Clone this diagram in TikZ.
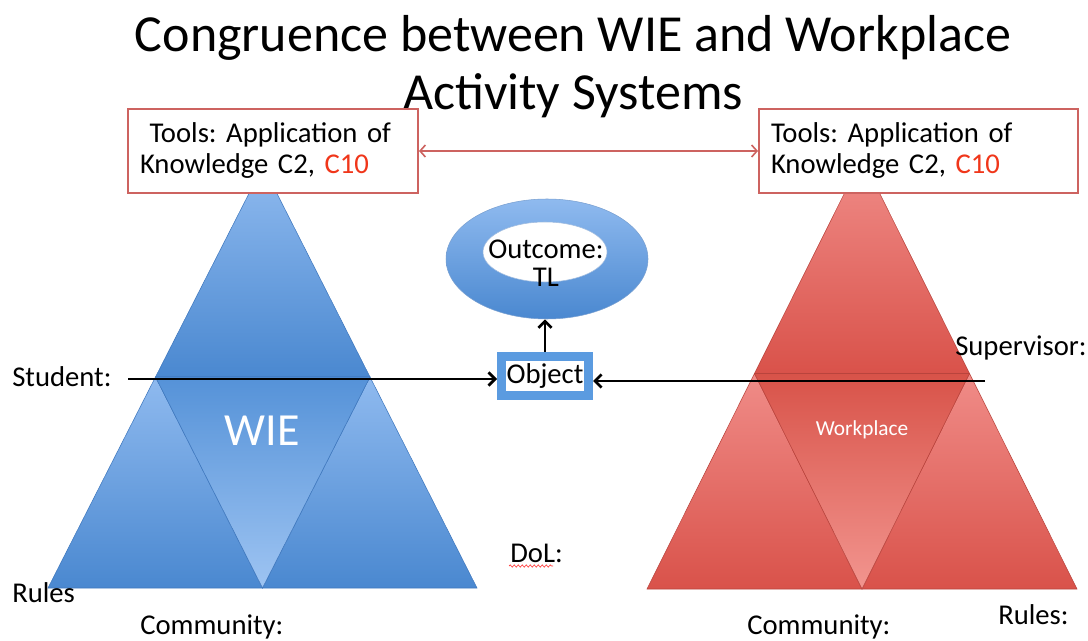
\documentclass[tikz,border=0pt]{standalone}
\usepackage{fontspec}
\setmainfont{Carlito}
\usetikzlibrary{arrows.meta,shapes.geometric,decorations.pathmorphing}
\frenchspacing

\definecolor{bluetop}{HTML}{8FBAEF}
\definecolor{bluebot}{HTML}{4A88D0}
\definecolor{bluemidtop}{HTML}{5592D8}
\definecolor{bluemidbot}{HTML}{9EC4F2}
\definecolor{blueedge}{HTML}{3F78BE}
\definecolor{redtop}{HTML}{F08C88}
\definecolor{redbot}{HTML}{D9524A}
\definecolor{redmidtop}{HTML}{D85349}
\definecolor{redmidbot}{HTML}{F2958F}
\definecolor{rededge}{HTML}{B9443D}
\definecolor{boxred}{HTML}{CD6360}
\definecolor{codered}{HTML}{F0361A}
\definecolor{objblue}{HTML}{5B9BE0}

\tikzset{
  toolbox/.style={draw=boxred, line width=1.5pt, fill=white, align=left, inner xsep=9pt,
    minimum height=63pt, anchor=north west, font=\fontsize{21.5}{23.25}\selectfont},
  txt/.style={inner sep=0pt, anchor=base west, font=\fontsize{21.5}{24}\selectfont},
  arr/.style={line width=2pt, -{Straight Barb[length=5pt,width=10pt]}},
  redarr/.style={draw=boxred, line width=1.2pt, {Straight Barb[length=4pt,width=9pt]}-{Straight Barb[length=4pt,width=9pt]}},
  bluetri/.style={top color=bluetop, bottom color=bluebot, draw=blueedge, line width=0.4pt},
  bluemid/.style={top color=bluemidtop, bottom color=bluemidbot, draw=blueedge, line width=0.4pt},
  redtri/.style={top color=redtop, bottom color=redbot, draw=rededge, line width=0.4pt},
  redmid/.style={top color=redmidtop, bottom color=redmidbot, draw=rededge, line width=0.4pt},
}

\begin{document}
\begin{tikzpicture}[x=0.75pt,y=-0.75pt]
        \useasboundingbox (0,0) rectangle (1088,641);
        \fill[white] (0,0) rectangle (1088,641);

        % triangles WIE
        \shade[bluetri] (263,166) -- (370,377) -- (155.5,377) -- cycle;
        \shade[bluetri] (155.5,377) -- (262.5,588) -- (48,588) -- cycle;
        \shade[bluetri] (370,377) -- (477,588) -- (262.5,588) -- cycle;
        \shade[bluemid] (155.5,377) -- (370,377) -- (262.5,588) -- cycle;
        \node[text=white, font=\fontsize{34.5}{40}\selectfont, anchor=base, inner sep=0pt] (wie) at (262,445) {WIE};

        % triangles Workplace
        \shade[redtri] (862,158) -- (969.5,373.5) -- (754.5,373.5) -- cycle;
        \shade[redtri] (754.5,373.5) -- (862,589) -- (647,589) -- cycle;
        \shade[redtri] (969.5,373.5) -- (1077,589) -- (862,589) -- cycle;
        \shade[redmid] (754.5,373.5) -- (969.5,373.5) -- (862,589) -- cycle;
        \node[text=white, font=\fontsize{16}{18}\selectfont, anchor=base, inner sep=0pt] (work) at (862,435) {Workplace};

        % title
        \node[font=\fontsize{39}{43.5}\selectfont, align=center, inner sep=0pt] (title) at (573,67)
            {Congruence between WIE and Workplace\\Activity Systems};

        % tools
        \node[toolbox, text width=199.5pt] (lbox) at (127,108)
            {\ Tools: Application of\\Knowledge C2, \textcolor{codered}{C10}};
        \node[toolbox, text width=221.25pt] (rbox) at (758,108)
            {Tools: Application of\\Knowledge C2, \textcolor{codered}{C10}};
        \draw[redarr] (lbox.east) -- (rbox.west);

        % outcome
        \node[ellipse, minimum width=151.5pt, minimum height=90pt, top color=bluetop, bottom color=bluebot,
            draw=blueedge!70, line width=0.4pt] (outcome) at (547,259) {};
        \node[ellipse, minimum width=93pt, minimum height=45pt, fill=white, draw=blueedge!50,
            line width=0.4pt] (outin) at (545,252) {};
        \node[align=center, inner sep=0pt, font=\fontsize{21.5}{21}\selectfont] (outtxt) at (546,263) {Outcome:\\TL};

        % object
        \node[draw=objblue, line width=7pt, fill=white, minimum width=65pt, minimum height=29pt, inner sep=1pt,
            font=\fontsize{21.5}{23}\selectfont] (object) at (545,376) {Object};
        \draw[arr] (object.north) -- (object.north |- outcome.south);

        % subjects
        \coordinate (stu) at (128,379);
        \coordinate (sup) at (985,381);
        \draw[arr] (stu) -- (stu -| object.west);
        \draw[arr] (sup) -- (sup -| object.east);

        % labels
        \node[txt] (student) at (12,387) {Student:};
        \node[txt] (supervisor) at (955,355) {Supervisor:};
        \node[txt] (lrules) at (12,602) {Rules};
        \node[txt] (lcomm) at (140,634) {Community:};
        \node[txt] (dol) at (510,562) {DoL:};
        \draw[red!80, line width=0.5pt, decorate, decoration={snake, amplitude=0.8pt, segment length=3pt}]
            (509,566) -- (553,566);
        \node[txt] (rcomm) at (747,634) {Community:};
        \node[txt] (rrules) at (998,624) {Rules:};
    \end{tikzpicture}
\end{document}
